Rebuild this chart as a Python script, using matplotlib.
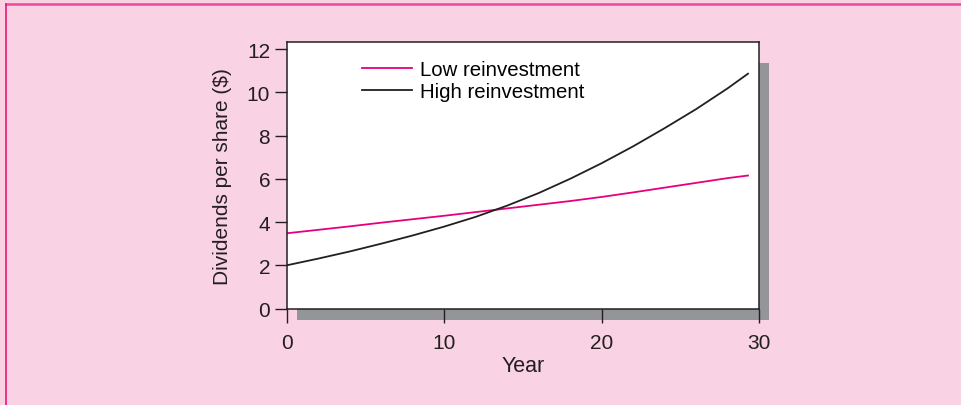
import matplotlib
matplotlib.use('Agg')
import matplotlib.pyplot as plt
from matplotlib.patches import Rectangle
from matplotlib.lines import Line2D

plt.rcParams['font.family'] = ['Liberation Sans', 'DejaVu Sans']

# Данные
years = [0, 2, 4, 6, 8, 10, 12, 14, 16, 18, 20, 22, 24, 26, 28, 29.3]
low_reinvest = [3.48, 3.64, 3.80, 3.97, 4.13, 4.29, 4.46, 4.63, 4.80, 4.97, 5.16,
                5.37, 5.59, 5.81, 6.03, 6.15]
high_reinvest = [2.00, 2.31, 2.64, 3.00, 3.38, 3.79, 4.24, 4.76, 5.34, 6.00, 6.72,
                 7.50, 8.34, 9.22, 10.18, 10.86]
x_ticks = [0, 10, 20, 30]
y_ticks = [0, 2, 4, 6, 8, 10, 12]

bg = '#F9D3E3'
pink = '#E6007E'
ink = '#231F20'
W, H = 962, 406

fig = plt.figure(figsize=(W / 100, H / 100), dpi=100)
fig.patch.set_facecolor(bg)

# рамка слева и сверху
fig.add_artist(Line2D([5.5 / W, 1], [1 - 4.5 / H, 1 - 4.5 / H], color='#E84B9B', lw=1.8, transform=fig.transFigure))
fig.add_artist(Line2D([5.5 / W, 5.5 / W], [0, 1 - 4.5 / H], color='#E8177F', lw=1.2, transform=fig.transFigure))

# оси
left, right, top, bottom = 287, 759, 42.7, 309.5
ax = fig.add_axes([left / W, 1 - bottom / H, (right - left) / W, (bottom - top) / H])
ax.set_facecolor('white')

# тень под осями
shadow = Rectangle(((left + 10) / W, 1 - (bottom + 11) / H), (right - left) / W, (bottom - top - 10) / H,
                   transform=fig.transFigure, facecolor='#939598', edgecolor='none', zorder=-1)
fig.patches.append(shadow)

ax.plot(years, low_reinvest, color=pink, lw=1.3, label='Low reinvestment')
ax.plot(years, high_reinvest, color=ink, lw=1.3, label='High reinvestment')

ax.set_xlim(0, 30)
ax.set_ylim(0, 12.34)
ax.set_xticks(x_ticks)
ax.set_yticks(y_ticks)
for s in ax.spines.values():
    s.set_color(ink)
    s.set_linewidth(1.1)

ax.tick_params(axis='y', direction='out', length=8.6, width=1, pad=3.5, labelsize=15, colors=ink)
ax.tick_params(axis='x', direction='out', length=10, width=1, pad=7.5, labelsize=15, colors=ink)
ax.set_xlabel('Year', fontsize=15.5, color=ink, labelpad=2)
ax.set_ylabel('Dividends per share ($)', fontsize=15, color=ink, labelpad=11)

ax.legend(loc='upper left', bbox_to_anchor=(0.159, 0.932), frameon=False, fontsize=14.7,
          handlelength=2.45, handletextpad=0.4, labelspacing=0.15, borderpad=0, borderaxespad=0)

fig.savefig('out.png', dpi=100, facecolor=bg)
